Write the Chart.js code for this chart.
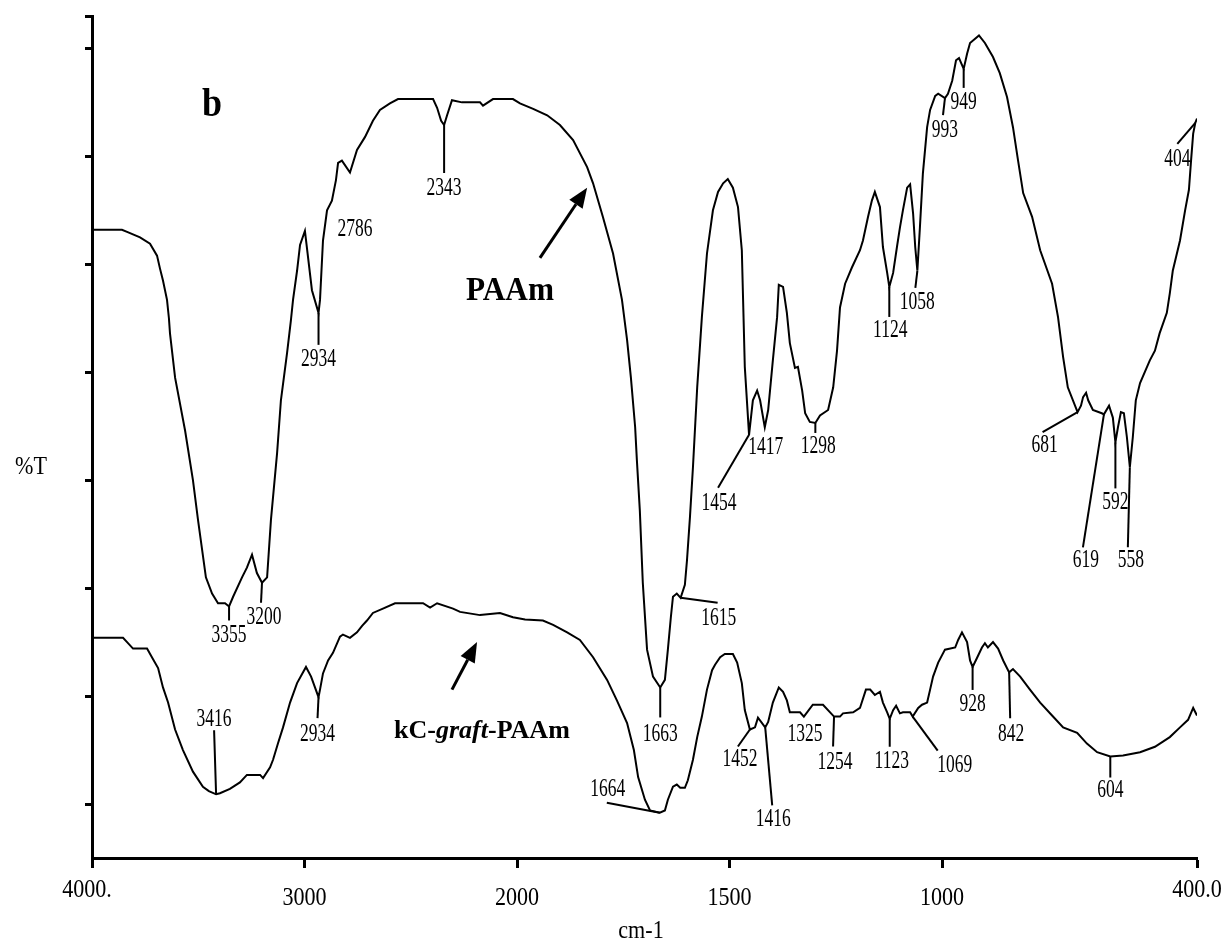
<!DOCTYPE html>
<html>
<head>
<meta charset="utf-8">
<title>FTIR spectra: PAAm and kC-graft-PAAm</title>
<script src="https://cdn.jsdelivr.net/npm/chart.js@4.4.1/dist/chart.umd.min.js"></script>
<style>
  html, body { margin: 0; padding: 0; background: #ffffff; }
  #wrap { width: 1228px; height: 939px; }
</style>
</head>
<body>
<div id="wrap"><canvas id="spectrum" width="1228" height="939"></canvas></div>
<script>
// ---------- data ----------
const PAAM_WAVENUMBER = [4000, 3859, 3835, 3774, 3727, 3694, 3680, 3666, 3647, 3638, 3633, 3609, 3562, 3525, 3501, 3464, 3435, 3407, 3374, 3355, 3336, 3294, 3271, 3247, 3224, 3200, 3176, 3158, 3129, 3111, 3082, 3064, 3054, 3035, 3021, 2998, 2965, 2934, 2927, 2913, 2894, 2871, 2852, 2842, 2824, 2786, 2753, 2715, 2678, 2645, 2598, 2560, 2395, 2376, 2357, 2343, 2329, 2306, 2259, 2174, 2160, 2113, 2019, 1993, 1962, 1929, 1899, 1868, 1835, 1821, 1798, 1774, 1753, 1741, 1732, 1722, 1718, 1711, 1704, 1694, 1680, 1663, 1652, 1645, 1638, 1633, 1624, 1615, 1605, 1600, 1593, 1586, 1576, 1565, 1553, 1539, 1527, 1515, 1504, 1492, 1480, 1471, 1468, 1464, 1454, 1445, 1435, 1428, 1417, 1409, 1398, 1388, 1384, 1374, 1365, 1358, 1346, 1339, 1329, 1322, 1311, 1298, 1287, 1268, 1256, 1247, 1240, 1228, 1212, 1193, 1186, 1174, 1165, 1158, 1146, 1139, 1129, 1124, 1115, 1106, 1099, 1092, 1082, 1075, 1068, 1063, 1058, 1052, 1045, 1035, 1028, 1016, 1009, 993, 986, 976, 967, 960, 949, 941, 934, 913, 899, 880, 864, 847, 833, 821, 809, 788, 769, 741, 727, 715, 704, 681, 673, 668, 661, 656, 645, 624, 619, 607, 598, 592, 586, 579, 572, 565, 558, 551, 544, 534, 511, 499, 488, 471, 464, 457, 440, 428, 419, 414, 409, 404, 400];
const PAAM_T = [58.2, 58.2, 58.0, 57.5, 56.9, 55.8, 54.6, 53.5, 51.7, 50.0, 48.6, 44.5, 39.6, 35.0, 31.3, 26.0, 24.5, 23.6, 23.6, 23.3, 24.2, 26.0, 26.9, 28.1, 26.4, 25.5, 26.0, 31.3, 37.5, 42.4, 46.8, 49.8, 51.7, 54.4, 56.8, 58.1, 52.6, 50.5, 51.7, 57.2, 60.0, 60.9, 62.8, 64.4, 64.6, 63.5, 65.6, 66.8, 68.3, 69.3, 69.9, 70.3, 70.3, 69.5, 68.3, 67.9, 68.8, 70.2, 70.0, 70.0, 69.7, 70.3, 70.3, 69.9, 69.4, 68.8, 67.9, 66.5, 64.0, 62.5, 59.4, 56.0, 51.7, 48.0, 44.5, 39.9, 36.9, 32.2, 25.5, 19.3, 16.8, 15.8, 16.5, 19.3, 22.3, 24.2, 24.5, 24.1, 25.3, 27.6, 31.6, 36.2, 43.6, 50.1, 56.0, 60.0, 61.7, 62.5, 62.9, 62.1, 60.3, 56.3, 51.7, 45.5, 39.2, 42.4, 43.3, 42.4, 39.9, 41.5, 46.1, 50.1, 53.1, 52.9, 50.5, 47.7, 45.4, 45.5, 43.3, 41.2, 40.4, 40.3, 41.0, 41.5, 43.6, 47.0, 51.0, 53.2, 54.7, 56.3, 57.2, 59.4, 60.9, 61.7, 60.3, 56.6, 54.2, 52.9, 54.2, 56.6, 58.4, 60.0, 62.1, 62.4, 59.7, 56.6, 54.4, 58.4, 63.4, 67.7, 69.3, 70.6, 70.8, 70.4, 70.8, 72.0, 73.9, 74.1, 73.1, 74.5, 75.5, 76.2, 75.5, 74.2, 72.7, 70.5, 67.7, 64.6, 61.6, 59.4, 56.3, 53.2, 50.1, 46.4, 43.6, 41.3, 41.9, 42.7, 43.1, 42.4, 41.5, 41.2, 41.1, 41.9, 40.8, 38.5, 39.9, 41.3, 41.2, 39.0, 36.2, 39.0, 42.4, 44.0, 46.1, 47.0, 48.6, 50.5, 52.3, 54.4, 57.2, 60.0, 61.9, 64.6, 67.1, 68.1, 68.5];

const KC_WAVENUMBER = [4000, 3854, 3835, 3807, 3741, 3718, 3689, 3666, 3642, 3609, 3572, 3525, 3478, 3450, 3416, 3398, 3351, 3304, 3271, 3209, 3195, 3162, 3148, 3125, 3101, 3068, 3035, 2993, 2969, 2934, 2927, 2913, 2889, 2866, 2833, 2819, 2786, 2753, 2729, 2706, 2678, 2631, 2574, 2442, 2409, 2376, 2301, 2268, 2174, 2080, 2019, 1981, 1939, 1915, 1882, 1852, 1821, 1788, 1765, 1741, 1725, 1715, 1699, 1687, 1664, 1652, 1645, 1633, 1624, 1616, 1605, 1598, 1586, 1576, 1565, 1553, 1541, 1534, 1522, 1511, 1492, 1482, 1471, 1464, 1452, 1440, 1433, 1416, 1409, 1398, 1384, 1374, 1365, 1358, 1334, 1325, 1304, 1280, 1254, 1240, 1233, 1209, 1193, 1179, 1169, 1158, 1146, 1139, 1129, 1123, 1115, 1108, 1099, 1092, 1075, 1069, 1056, 1047, 1035, 1028, 1021, 1009, 993, 969, 962, 953, 941, 934, 928, 918, 906, 899, 892, 880, 868, 856, 842, 833, 816, 793, 769, 741, 715, 682, 659, 635, 604, 574, 534, 499, 464, 440, 421, 409, 400];
const KC_T = [20.4, 20.4, 20.0, 19.4, 19.4, 18.6, 17.6, 15.8, 14.4, 11.9, 10.0, 8.0, 6.6, 6.2, 5.9, 6.0, 6.4, 7.0, 7.7, 7.7, 7.4, 8.4, 9.1, 10.6, 12.1, 14.4, 16.2, 17.7, 16.8, 14.9, 15.6, 17.1, 18.3, 19.0, 20.5, 20.7, 20.4, 20.9, 21.5, 22.0, 22.7, 23.1, 23.6, 23.6, 23.2, 23.6, 23.1, 22.8, 22.5, 22.7, 22.3, 22.1, 22.0, 21.6, 20.9, 20.2, 18.6, 16.5, 14.6, 12.5, 10.0, 7.5, 5.4, 4.4, 4.2, 4.4, 5.4, 6.6, 6.8, 6.5, 6.5, 7.2, 9.1, 11.2, 13.1, 15.6, 17.4, 17.9, 18.6, 18.9, 18.9, 18.1, 16.2, 13.7, 11.9, 12.1, 13.0, 12.1, 12.6, 14.4, 15.8, 15.4, 14.6, 13.5, 13.5, 13.1, 14.2, 14.2, 13.1, 13.1, 13.4, 13.5, 13.9, 15.6, 15.6, 15.1, 15.4, 14.4, 13.5, 12.9, 13.7, 14.1, 13.4, 13.5, 13.5, 13.1, 13.9, 14.2, 14.4, 15.6, 16.8, 18.1, 19.3, 19.5, 20.2, 20.9, 20.0, 18.3, 17.7, 18.5, 19.5, 19.9, 19.5, 20.0, 19.4, 18.3, 17.2, 17.5, 16.8, 15.6, 14.4, 13.2, 12.1, 11.6, 10.6, 9.8, 9.4, 9.5, 9.8, 10.3, 11.2, 12.1, 12.8, 13.9, 13.2];

// marked bands (cm-1)
const PAAM_PEAKS = [3355, 3200, 2934, 2786, 2343, 1663, 1615, 1454, 1417, 1298, 1124, 1058, 993, 949, 681, 619, 592, 558, 404];
const KC_PEAKS = [3416, 2934, 1664, 1452, 1416, 1325, 1254, 1123, 1069, 928, 842, 604];

// axes
const X_TICKS = [4000, 3000, 2000, 1500, 1000, 400];
const X_TICK_LABELS = ['4000.', '3000', '2000', '1500', '1000', '400.0'];
const Y_TICKS = [5, 15, 25, 35, 45, 55, 65, 75, 78];
const Y_MIN = 0;
const Y_MAX = 78;

// ---------- label layout (pixel offsets from the marked point) ----------
const PAAM_LABEL_LAYOUT = {
  3355: { lead: [0, 14], text: [0, 27] },
  3200: { lead: [-1, 20], text: [2, 33] },
  2934: { lead: [0, 32], text: [0, 45] },
  2786: { lead: null, text: [5, 55] },
  2343: { lead: [0, 48], text: [0, 61] },
  1663: { lead: [0, 30], text: [0, 45] },
  1615: { lead: [37, 5], text: [38, 19] },
  1454: { lead: [-31, 53], text: [-30, 67] },
  1417: { lead: null, text: [1, 18] },
  1298: { lead: [0, 10], text: [3, 22] },
  1124: { lead: [0, 30], text: [1, 42] },
  1058: { lead: [-2, 17], text: [0, 30] },
  993: { lead: [-2, 17], text: [0, 30] },
  949: { lead: [0, 19], text: [0, 32] },
  681: { lead: [-35, 20], text: [-33, 31] },
  619: { lead: [-21, 133], text: [-18, 144] },
  592: { lead: [0, 46], text: [0, 58] },
  558: { lead: [-2, 80], text: [1, 91] },
  404: { lead: [-18, 21], text: [-18, 35] }
};
const KC_LABEL_LAYOUT = {
  3416: { lead: [-2, -64], text: [-2, -77] },
  2934: { lead: [-1, 21], text: [-1, 35] },
  1664: { lead: [-53, -10], text: [-52, -25] },
  1452: { lead: [-12, 17], text: [-10, 28] },
  1416: { lead: [7, 78], text: [8, 90] },
  1325: { lead: null, text: [1, 16] },
  1254: { lead: [-1, 30], text: [1, 44] },
  1123: { lead: [0, 28], text: [2, 41] },
  1069: { lead: [25, 34], text: [42, 47] },
  928: { lead: [0, 23], text: [0, 36] },
  842: { lead: [1, 46], text: [2, 60] },
  604: { lead: [0, 21], text: [0, 32] }
};

// series names and arrows, placed in data coordinates
const SERIES_NOTES = [
  { parts: [{ t: 'PAAm', style: 'normal' }], at: [2033, 52.8], size: 34, sx: 0.92 },
  { parts: [{ t: 'kC-', style: 'normal' }, { t: 'graft', style: 'italic' }, { t: '-PAAm', style: 'normal' }], at: [2165, 11.9], size: 26, sx: 1.0 },
  { parts: [{ t: 'b', style: 'normal' }], at: [3435, 70.0], size: 40, sx: 0.9 }
];
const ARROWS = [
  { from: [1946, 55.6], to: [1835, 62.1] },
  { from: [2306, 15.6], to: [2188, 20.0] }
];

const SERIF = '"Liberation Serif", "Times New Roman", serif';

// ---------- wavenumber axis with 2x expansion below 2000 cm-1 ----------
const BREAK_SPAN = 2600;
function toBreakUnits(w) { return w >= 2000 ? (4000 - w) / 2 : 1000 + (2000 - w); }
function fromBreakUnits(u) { return u <= 1000 ? 4000 - 2 * u : 2000 - (u - 1000); }

class WavenumberScale extends Chart.LinearScale {
  buildTicks() { return X_TICKS.map(v => ({ value: v })); }
  getPixelForValue(value) {
    if (value === null || value === undefined || isNaN(value)) return NaN;
    return this.getPixelForDecimal(toBreakUnits(value) / BREAK_SPAN);
  }
  getValueForPixel(pixel) {
    return fromBreakUnits(this.getDecimalForPixel(pixel) * BREAK_SPAN);
  }
}
WavenumberScale.id = 'wavenumber';
WavenumberScale.defaults = Chart.LinearScale.defaults;
Chart.register(WavenumberScale);

// ---------- drawing helpers ----------
function squeezedText(ctx, text, x, y, size, sx, weight, style, align) {
  ctx.save();
  ctx.font = `${style || 'normal'} ${weight || 'normal'} ${size}px ${SERIF}`;
  ctx.textAlign = align || 'center';
  ctx.textBaseline = 'alphabetic';
  ctx.translate(x, y + size * 0.34);
  ctx.scale(sx, 1);
  ctx.fillText(text, 0, 0);
  ctx.restore();
}

function valueAt(ws, ts, w) {
  const i = ws.indexOf(w);
  return i >= 0 ? ts[i] : null;
}

function drawPeakLabels(ctx, xs, ys, ws, ts, peaks, layout) {
  peaks.forEach(p => {
    const v = valueAt(ws, ts, p);
    if (v === null) return;
    const px = xs.getPixelForValue(p);
    const py = ys.getPixelForValue(v);
    const lay = layout[p];
    if (lay.lead) {
      ctx.beginPath();
      ctx.moveTo(px, py);
      ctx.lineTo(px + lay.lead[0], py + lay.lead[1]);
      ctx.stroke();
    }
    squeezedText(ctx, String(p), px + lay.text[0], py + lay.text[1], 25, 0.70);
  });
}

const annotationPlugin = {
  id: 'spectrumNotes',
  afterDatasetsDraw(chart) {
    const ctx = chart.ctx;
    const xs = chart.scales.x;
    const ys = chart.scales.y;
    const area = chart.chartArea;
    ctx.save();
    ctx.fillStyle = '#000';
    ctx.strokeStyle = '#000';
    ctx.lineWidth = 2;
    ctx.lineCap = 'butt';

    drawPeakLabels(ctx, xs, ys, PAAM_WAVENUMBER, PAAM_T, PAAM_PEAKS, PAAM_LABEL_LAYOUT);
    drawPeakLabels(ctx, xs, ys, KC_WAVENUMBER, KC_T, KC_PEAKS, KC_LABEL_LAYOUT);

    // arrows pointing at the two traces
    ARROWS.forEach(a => {
      const x0 = xs.getPixelForValue(a.from[0]), y0 = ys.getPixelForValue(a.from[1]);
      const x1 = xs.getPixelForValue(a.to[0]), y1 = ys.getPixelForValue(a.to[1]);
      const ang = Math.atan2(y1 - y0, x1 - x0);
      const head = 20, half = 8;
      const bx = x1 - head * Math.cos(ang), by = y1 - head * Math.sin(ang);
      ctx.lineWidth = 3;
      ctx.beginPath();
      ctx.moveTo(x0, y0);
      ctx.lineTo(bx, by);
      ctx.stroke();
      ctx.beginPath();
      ctx.moveTo(x1, y1);
      ctx.lineTo(bx + half * Math.sin(ang), by - half * Math.cos(ang));
      ctx.lineTo(bx - half * Math.sin(ang), by + half * Math.cos(ang));
      ctx.closePath();
      ctx.fill();
    });

    // series names
    SERIES_NOTES.forEach(n => {
      const cx = xs.getPixelForValue(n.at[0]);
      const cy = ys.getPixelForValue(n.at[1]);
      const fonts = n.parts.map(p => `${p.style} bold ${n.size}px ${SERIF}`);
      let total = 0;
      const widths = n.parts.map((p, i) => { ctx.font = fonts[i]; const w = ctx.measureText(p.t).width * n.sx; total += w; return w; });
      let x = cx - total / 2;
      n.parts.forEach((p, i) => {
        squeezedText(ctx, p.t, x, cy, n.size, n.sx, 'bold', p.style, 'left');
        x += widths[i];
      });
    });

    // wavenumber tick labels
    X_TICKS.forEach((w, i) => {
      const atEnd = (i === 0 || i === X_TICKS.length - 1);
      const shift = i === 0 ? -5 : 0;
      squeezedText(ctx, X_TICK_LABELS[i], xs.getPixelForValue(w) + shift, area.bottom + (atEnd ? 30 : 38), 26, 0.85);
    });

    // axis titles
    squeezedText(ctx, 'cm-1', 641, area.bottom + 71, 26, 0.85);
    squeezedText(ctx, '%T', area.left - 61, 465, 26, 0.85);

    ctx.restore();
  }
};

// ---------- chart ----------
const toPoints = (ws, ts) => ws.map((w, i) => ({ x: w, y: ts[i] }));

new Chart(document.getElementById('spectrum'), {
  type: 'line',
  data: {
    datasets: [
      { label: 'PAAm', data: toPoints(PAAM_WAVENUMBER, PAAM_T), borderColor: '#000', borderWidth: 2, pointRadius: 0, tension: 0, fill: false },
      { label: 'kC-graft-PAAm', data: toPoints(KC_WAVENUMBER, KC_T), borderColor: '#000', borderWidth: 2, pointRadius: 0, tension: 0, fill: false }
    ]
  },
  options: {
    responsive: false,
    animation: false,
    devicePixelRatio: 1,
    layout: { padding: { top: 16, right: 31, left: 0, bottom: 0 } },
    plugins: { legend: { display: false }, tooltip: { enabled: false } },
    scales: {
      x: {
        type: 'wavenumber',
        min: 400, max: 4000,
        ticks: { display: false },
        grid: { drawOnChartArea: false, drawTicks: true, tickLength: 10, tickWidth: 3, color: '#000' },
        border: { display: true, color: '#000', width: 3 },
        afterFit(scale) { scale.height = 81; }
      },
      y: {
        type: 'linear',
        min: Y_MIN, max: Y_MAX,
        ticks: { display: false },
        afterBuildTicks(scale) { scale.ticks = Y_TICKS.map(v => ({ value: v })); },
        grid: { drawOnChartArea: false, drawTicks: true, tickLength: 7, tickWidth: 3, color: '#000' },
        border: { display: true, color: '#000', width: 3 },
        afterFit(scale) { scale.width = 92; }
      }
    }
  },
  plugins: [annotationPlugin]
});
</script>
</body>
</html>
